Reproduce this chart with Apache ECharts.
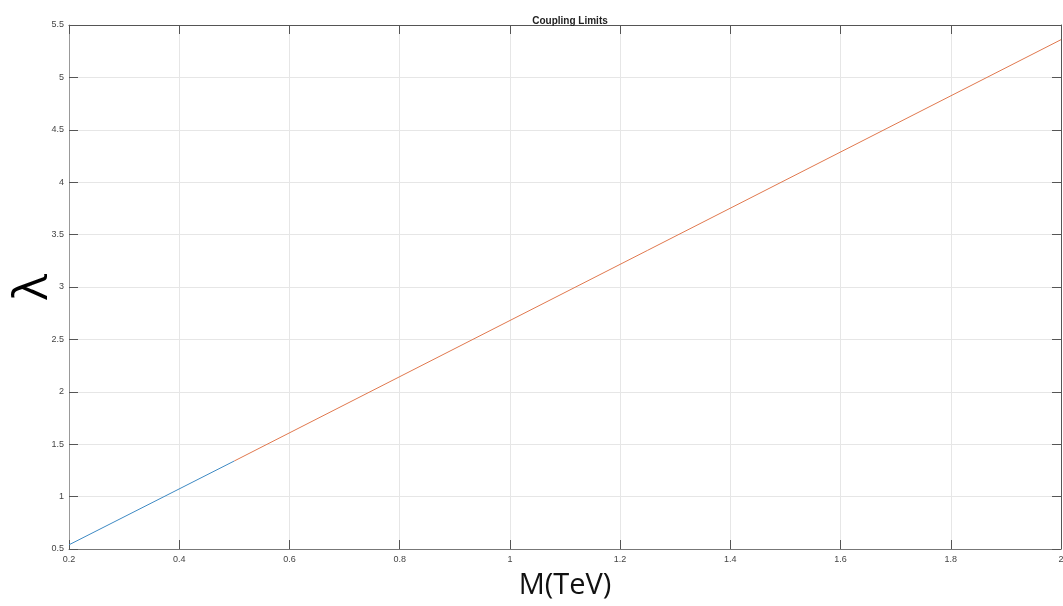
<!DOCTYPE html>
<html>
<head>
<meta charset="utf-8">
<script src="https://cdn.jsdelivr.net/npm/echarts@6/dist/echarts.min.js"></script>
<style>
  html, body { margin: 0; padding: 0; background: #fff; }
  #chart { width: 1063px; height: 606px; }
</style>
</head>
<body>
<div id="chart"></div>
<script>
// Coupling limits vs mass
const xTicks = [0.2, 0.4, 0.6, 0.8, 1, 1.2, 1.4, 1.6, 1.8, 2]
const yTicks = [0.5, 1, 1.5, 2, 2.5, 3, 3.5, 4, 4.5, 5, 5.5]
const lowMass = [0.2, 0.5]
const lowLambda = [0.54, 1.34]
const highMass = [0.5, 2]
const highLambda = [1.34, 5.36]

const axisColor = '#555'
const labelStyle = { color: '#444', fontSize: 9, fontFamily: 'Liberation Sans, Arial, sans-serif' }

const chart = echarts.init(document.getElementById('chart'))

function pairs(xs, ys) {
  return xs.map((x, i) => [x, ys[i]])
}

chart.setOption({
  animation: false,
  title: {
    text: 'Coupling Limits',
    left: 565,
    top: 11,
    textAlign: 'center',
    textStyle: { fontSize: 10, fontWeight: 'bold', color: '#222', fontFamily: 'Liberation Sans, Arial, sans-serif' }
  },
  grid: { left: 69, right: 2, top: 25, bottom: 57, containLabel: false, outerBoundsMode: 'none' },
  xAxis: [{
    type: 'value',
    min: xTicks[0],
    max: xTicks[xTicks.length - 1],
    interval: 0.2,
    name: 'M(TeV)',
    nameLocation: 'middle',
    nameGap: 22,
    nameTextStyle: { fontSize: 29, color: '#111', fontFamily: 'Open Sans, sans-serif' },
    axisLine: { lineStyle: { color: '#777' } },
    axisTick: { inside: true, length: 9, lineStyle: { color: axisColor } },
    axisLabel: Object.assign({ margin: 6 }, labelStyle),
    splitLine: { lineStyle: { color: '#e6e6e6' } }
  }, {
    type: 'value',
    position: 'top',
    min: xTicks[0],
    max: xTicks[xTicks.length - 1],
    interval: 0.2,
    axisLine: { show: true, lineStyle: { color: axisColor } },
    axisTick: { inside: true, length: 9, lineStyle: { color: axisColor } },
    axisLabel: { show: false },
    splitLine: { show: false }
  }],
  yAxis: [{
    type: 'value',
    min: yTicks[0],
    max: yTicks[yTicks.length - 1],
    interval: 0.5,
    name: 'λ',
    nameLocation: 'middle',
    nameRotate: 90,
    nameGap: 12,
    nameMoveOverlap: false,
    nameTextStyle: { fontSize: 48, color: '#000', fontFamily: 'Open Sans, sans-serif' },
    axisLine: { show: true, lineStyle: { color: '#999' } },
    axisTick: { inside: true, length: 9, lineStyle: { color: axisColor } },
    axisLabel: Object.assign({ margin: 5 }, labelStyle),
    splitLine: { lineStyle: { color: '#e6e6e6' } }
  }, {
    type: 'value',
    position: 'right',
    min: yTicks[0],
    max: yTicks[yTicks.length - 1],
    interval: 0.5,
    axisLine: { show: true, lineStyle: { color: axisColor } },
    axisTick: { inside: true, length: 9, lineStyle: { color: axisColor } },
    axisLabel: { show: false },
    splitLine: { show: false }
  }],
  series: [{
    name: 'low',
    type: 'line',
    data: pairs(lowMass, lowLambda),
    showSymbol: false,
    lineStyle: { color: '#3d89c3', width: 1 }
  }, {
    name: 'high',
    type: 'line',
    data: pairs(highMass, highLambda),
    showSymbol: false,
    lineStyle: { color: '#e0784e', width: 1 }
  }]
})
</script>
</body>
</html>
